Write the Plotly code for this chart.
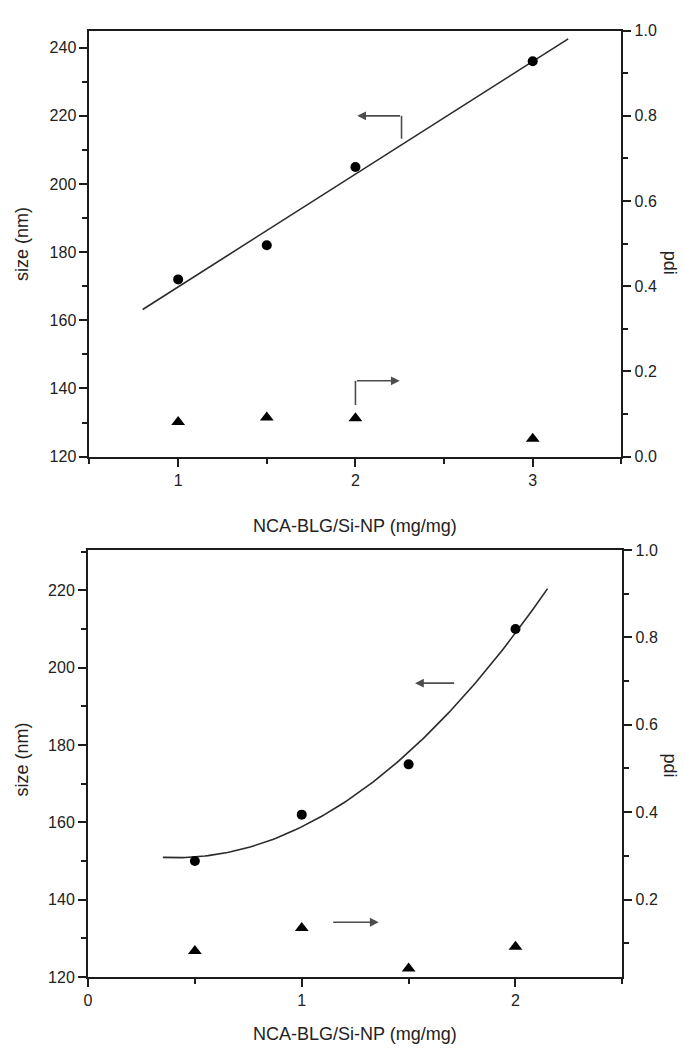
import numpy as np
import plotly.graph_objects as go
from plotly.subplots import make_subplots

W, H = 684, 1051

# Upper panel: particle size and pdi against NCA-BLG/Si-NP ratio
ratio_a = [1.0, 1.5, 2.0, 3.0]
size_a = [172, 182, 205, 236]
pdi_a = [0.081, 0.092, 0.090, 0.042]

# Lower panel
ratio_b = [0.5, 1.0, 1.5, 2.0]
size_b = [150, 162, 175, 210]
pdi_b = [0.082, 0.135, 0.042, 0.092]

x_title = "NCA-BLG/Si-NP (mg/mg)"
size_title = "size (nm)"
pdi_title = "pdi"

FONT = "Liberation Sans, Arial, Helvetica, sans-serif"
INK = "#1c1c1c"
ARROW = "#4d4d4d"


def px(x):
    return x / W


def py(y):
    return 1 - y / H


# Least-squares fits drawn through the size data
coef_a = np.polyfit(ratio_a, size_a, 1)
xa = np.linspace(0.8, 3.2, 50)
ya = np.polyval(coef_a, xa)

coef_b = np.polyfit(ratio_b, size_b, 2)
xb = np.linspace(0.35, 2.15, 120)
yb = np.polyval(coef_b, xb)

fig = make_subplots(rows=2, cols=1,
                    specs=[[{"secondary_y": True}], [{"secondary_y": True}]])

for row, (fx, fy, rx, sz, pd) in enumerate(
        [(xa, ya, ratio_a, size_a, pdi_a), (xb, yb, ratio_b, size_b, pdi_b)], start=1):
    fig.add_trace(go.Scatter(x=fx, y=fy, mode="lines",
                             line=dict(color="#2a2a2a", width=1.6),
                             showlegend=False, hoverinfo="skip"),
                  row=row, col=1, secondary_y=False)
    fig.add_trace(go.Scatter(x=rx, y=sz, mode="markers",
                             marker=dict(symbol="circle", size=10, color="#000000"),
                             showlegend=False),
                  row=row, col=1, secondary_y=False)
    fig.add_trace(go.Scatter(x=rx, y=pd, mode="markers",
                             marker=dict(symbol="triangle-up", size=12, color="#000000"),
                             showlegend=False),
                  row=row, col=1, secondary_y=True)

axis_style = dict(showline=True, linecolor=INK, linewidth=2, ticks="outside",
                  tickcolor=INK, tickwidth=1.6, ticklen=8, showgrid=False,
                  zeroline=False, tickfont=dict(family=FONT, size=16, color="#222222"))


def minor(step, length=5):
    return dict(dtick=step, ticks="outside", ticklen=length, tickwidth=1.6, tickcolor=INK)


fig.update_layout(
    width=W, height=H,
    margin=dict(l=0, r=0, t=0, b=0),
    paper_bgcolor="white", plot_bgcolor="white",
    font=dict(family=FONT, color="#222222"),
    xaxis=dict(axis_style, domain=[px(86), px(621)], range=[0.5, 3.5],
               tick0=0, dtick=1, mirror=True, minor=minor(0.5)),
    yaxis=dict(axis_style, domain=[py(456), py(23)], range=[120, 245],
               tick0=0, dtick=20, minor=minor(10)),
    yaxis2=dict(axis_style, range=[0, 1.0], tick0=0, dtick=0.2,
                tickformat=".1f", minor=minor(0.1), side="right"),
    xaxis2=dict(axis_style, domain=[px(84.5), px(622)], range=[0, 2.5],
                tick0=0, dtick=1, mirror=True, minor=minor(0.5)),
    yaxis3=dict(axis_style, domain=[py(985), py(551)], range=[120, 230.4],
                tick0=0, dtick=20, minor=minor(10)),
    yaxis4=dict(axis_style, range=[0.0225, 1.0], tick0=0, dtick=0.2,
                tickformat=".1f", minor=minor(0.1), side="right"),
)

ann = []
shapes = []

# Axis titles
for cx, cy in [(353.5, 527), (353.5, 1043)]:
    ann.append(dict(text=x_title, x=px(cx), y=py(cy), xref="paper", yref="paper",
                    showarrow=False, font=dict(family=FONT, size=18, color="#222222"),
                    xanchor="center", yanchor="middle"))
for cy in [240, 764]:
    ann.append(dict(text=size_title, x=px(18), y=py(cy), xref="paper", yref="paper",
                    showarrow=False, textangle=-90,
                    font=dict(family=FONT, size=18, color="#222222"),
                    xanchor="center", yanchor="middle"))
for cy in [259, 770]:
    ann.append(dict(text=pdi_title, x=px(670), y=py(cy), xref="paper", yref="paper",
                    showarrow=False, textangle=90,
                    font=dict(family=FONT, size=18, color="#222222"),
                    xanchor="center", yanchor="middle"))


def arrow(xref, yref, tail, head):
    return dict(text="", x=head[0], y=head[1], ax=tail[0], ay=tail[1],
                xref=xref, yref=yref, axref=xref, ayref=yref,
                showarrow=True, arrowhead=2, arrowsize=1.1, arrowwidth=1.6,
                arrowcolor=ARROW, standoff=0, startstandoff=0)


def seg(xref, yref, p0, p1):
    return dict(type="line", xref=xref, yref=yref, x0=p0[0], y0=p0[1],
                x1=p1[0], y1=p1[1], line=dict(color=ARROW, width=1.6))


# Upper panel: bent arrows pointing to the size (left) and pdi (right) axes
shapes.append(seg("x", "y", (2.26, 213.3), (2.26, 220)))
ann.append(arrow("x", "y", (2.26, 220), (2.01, 220)))
shapes.append(seg("x", "y2", (2.0, 0.121), (2.0, 0.178)))
ann.append(arrow("x", "y2", (2.0, 0.178), (2.25, 0.178)))

# Lower panel: straight arrows
ann.append(arrow("x2", "y3", (1.72, 196), (1.53, 196)))
ann.append(arrow("x2", "y4", (1.14, 0.148), (1.36, 0.148)))

fig.update_layout(annotations=ann, shapes=shapes)

fig.write_html("out.html")
